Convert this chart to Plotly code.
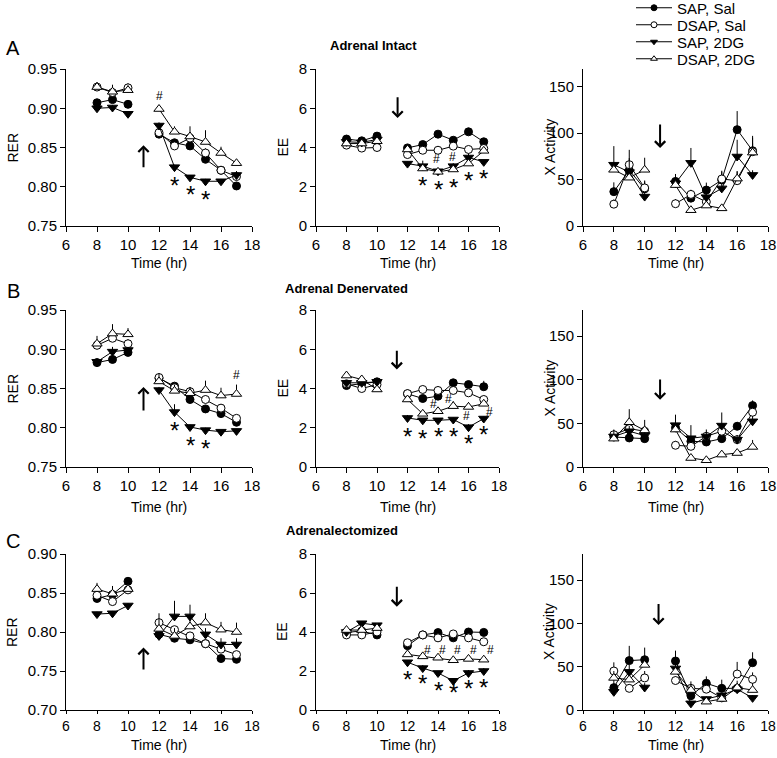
import plotly.graph_objects as go

W, H = 777, 758
FONT = "Liberation Sans, Arial, sans-serif"

HOURS = [8, 9, 10, 12, 13, 14, 15, 16, 17]
SERIES = ["SAP, Sal", "DSAP, Sal", "SAP, 2DG", "DSAP, 2DG"]

# ---------------- Row A: Adrenal Intact ----------------
RER_INTACT = {
    "SAP, Sal":  [0.907, 0.911, 0.905, 0.867, 0.856, 0.852, 0.835, 0.821, 0.801],
    "DSAP, Sal": [0.927, 0.920, 0.926, 0.869, 0.852, 0.862, 0.843, 0.821, 0.813],
    "SAP, 2DG":  [0.900, 0.901, 0.893, 0.878, 0.825, 0.812, 0.807, 0.807, 0.815],
    "DSAP, 2DG": [0.927, 0.921, 0.923, 0.899, 0.870, 0.864, 0.857, 0.843, 0.830],
}
RER_INTACT_ERR = {
    "SAP, Sal":  [0.004, 0.005, 0.004, 0.003, 0.004, 0.003, 0.004, 0.004, 0.003],
    "DSAP, Sal": [0.006, 0.004, 0.006, 0.004, 0.005, 0.007, 0.006, 0.005, 0.004],
    "SAP, 2DG":  [0.003, 0.003, 0.003, 0.004, 0.003, 0.003, 0.003, 0.003, 0.005],
    "DSAP, 2DG": [0.006, 0.009, 0.006, 0.005, 0.007, 0.013, 0.015, 0.008, 0.004],
}
EE_INTACT = {
    "SAP, Sal":  [4.43, 4.34, 4.58, 3.98, 4.15, 4.68, 4.37, 4.80, 4.29],
    "DSAP, Sal": [4.12, 3.97, 4.00, 3.64, 3.86, 3.86, 4.07, 3.90, 3.95],
    "SAP, 2DG":  [4.29, 4.26, 4.41, 3.18, 3.05, 2.79, 3.05, 3.49, 3.27],
    "DSAP, 2DG": [4.20, 4.20, 4.32, 3.90, 2.93, 2.76, 2.88, 3.18, 3.83],
}
EE_INTACT_ERR = {
    "SAP, Sal":  [0.10, 0.10, 0.12, 0.10, 0.10, 0.10, 0.10, 0.20, 0.10],
    "DSAP, Sal": [0.08, 0.08, 0.08, 0.10, 0.10, 0.08, 0.10, 0.10, 0.15],
    "SAP, 2DG":  [0.10, 0.10, 0.10, 0.10, 0.10, 0.10, 0.15, 0.20, 0.10],
    "DSAP, 2DG": [0.10, 0.10, 0.10, 0.15, 0.40, 0.15, 0.15, 0.20, 0.15],
}
ACT_INTACT = {
    "SAP, Sal":  [37, 60, 40, 48, 30, 38.7, 49.5, 103.7, 81],
    "DSAP, Sal": [23.5, 66, 41, 24, 34, 26, 50.6, 48.8, 80],
    "SAP, 2DG":  [66, 58, 31.7, 46, 68, 31, 40.5, 74.8, 55],
    "DSAP, 2DG": [60.5, 52, 60.5, 44, 17, 22, 19, 51, 79],
}
ACT_INTACT_ERR = {
    "SAP, Sal":  [10, 8, 8, 8, 5, 8, 10, 20, 8],
    "DSAP, Sal": [5, 16, 8, 5, 5, 5, 8, 10, 15],
    "SAP, 2DG":  [20, 15, 5, 8, 16, 5, 5, 18, 5],
    "DSAP, 2DG": [5, 5, 13, 5, 3, 3, 3, 8, 18],
}

# ---------------- Row B: Adrenal Denervated ----------------
RER_DENERV = {
    "SAP, Sal":  [0.883, 0.887, 0.896, 0.863, 0.853, 0.836, 0.824, 0.818, 0.807],
    "DSAP, Sal": [0.905, 0.914, 0.907, 0.864, 0.851, 0.846, 0.836, 0.825, 0.812],
    "SAP, 2DG":  [0.884, 0.897, 0.899, 0.848, 0.820, 0.801, 0.797, 0.795, 0.796],
    "DSAP, 2DG": [0.907, 0.920, 0.919, 0.859, 0.847, 0.844, 0.848, 0.841, 0.843],
}
RER_DENERV_ERR = {
    "SAP, Sal":  [0.004, 0.004, 0.004, 0.004, 0.004, 0.004, 0.004, 0.004, 0.003],
    "DSAP, Sal": [0.006, 0.006, 0.006, 0.005, 0.005, 0.005, 0.005, 0.005, 0.004],
    "SAP, 2DG":  [0.004, 0.006, 0.004, 0.004, 0.010, 0.003, 0.003, 0.002, 0.002],
    "DSAP, 2DG": [0.010, 0.012, 0.008, 0.010, 0.008, 0.008, 0.012, 0.010, 0.012],
}
EE_DENERV = {
    "SAP, Sal":  [4.15, 4.24, 4.34, 3.73, 3.49, 3.61, 4.29, 4.20, 4.09],
    "DSAP, Sal": [4.24, 4.00, 4.20, 3.74, 3.95, 3.90, 3.90, 3.78, 3.44],
    "SAP, 2DG":  [4.29, 4.29, 4.34, 2.50, 2.38, 2.38, 2.42, 2.03, 2.47],
    "DSAP, 2DG": [4.66, 4.46, 3.95, 3.44, 2.71, 2.84, 3.10, 3.06, 3.22],
}
EE_DENERV_ERR = {
    "SAP, Sal":  [0.10, 0.10, 0.10, 0.10, 0.10, 0.10, 0.10, 0.15, 0.30],
    "DSAP, Sal": [0.10, 0.10, 0.10, 0.20, 0.10, 0.10, 0.10, 0.10, 0.20],
    "SAP, 2DG":  [0.10, 0.10, 0.10, 0.15, 0.10, 0.10, 0.10, 0.15, 0.10],
    "DSAP, 2DG": [0.10, 0.10, 0.10, 0.20, 0.15, 0.20, 0.25, 0.25, 0.20],
}
ACT_DENERV = {
    "SAP, Sal":  [34.4, 33.3, 32.5, 45, 29.5, 28.7, 32.5, 46.7, 70.4],
    "DSAP, Sal": [37, 44, 41, 24.9, 23.7, 35.2, 41, 31.4, 62.8],
    "SAP, 2DG":  [35, 41, 36, 48, 33, 35, 47.5, 31.4, 52.4],
    "DSAP, 2DG": [32.5, 51.3, 42, 42.9, 10.3, 7.7, 14.2, 16, 23],
}
ACT_DENERV_ERR = {
    "SAP, Sal":  [5, 5, 5, 5, 5, 5, 5, 5, 6],
    "DSAP, Sal": [5, 5, 5, 5, 5, 5, 5, 5, 6],
    "SAP, 2DG":  [8, 6, 5, 12, 15, 8, 15, 5, 6],
    "DSAP, 2DG": [5, 15, 12, 5, 3, 3, 3, 3, 8],
}

# ---------------- Row C: Adrenalectomized ----------------
RER_ADX = {
    "SAP, Sal":  [0.843, 0.848, 0.865, 0.797, 0.792, 0.790, 0.785, 0.766, 0.765],
    "DSAP, Sal": [0.847, 0.839, 0.854, 0.812, 0.803, 0.795, 0.785, 0.778, 0.771],
    "SAP, 2DG":  [0.823, 0.824, 0.834, 0.795, 0.820, 0.820, 0.797, 0.784, 0.784],
    "DSAP, 2DG": [0.855, 0.849, 0.855, 0.804, 0.795, 0.807, 0.812, 0.803, 0.800],
}
RER_ADX_ERR = {
    "SAP, Sal":  [0.004, 0.004, 0.004, 0.004, 0.004, 0.004, 0.004, 0.004, 0.003],
    "DSAP, Sal": [0.004, 0.004, 0.004, 0.004, 0.004, 0.004, 0.004, 0.004, 0.004],
    "SAP, 2DG":  [0.003, 0.003, 0.003, 0.004, 0.020, 0.015, 0.008, 0.008, 0.008],
    "DSAP, 2DG": [0.008, 0.010, 0.006, 0.020, 0.010, 0.010, 0.012, 0.010, 0.012],
}
EE_ADX = {
    "SAP, Sal":  [3.98, 4.05, 3.85, 3.30, 3.85, 3.97, 3.70, 4.00, 3.98],
    "DSAP, Sal": [3.85, 3.85, 4.00, 3.45, 3.85, 3.70, 3.90, 3.70, 3.50],
    "SAP, 2DG":  [4.00, 4.45, 4.35, 2.45, 2.15, 1.90, 1.50, 1.90, 2.00],
    "DSAP, 2DG": [4.10, 4.10, 4.20, 2.85, 2.75, 2.68, 2.55, 2.62, 2.58],
}
EE_ADX_ERR = {
    "SAP, Sal":  [0.10, 0.10, 0.10, 0.10, 0.10, 0.10, 0.10, 0.15, 0.15],
    "DSAP, Sal": [0.10, 0.10, 0.10, 0.10, 0.10, 0.10, 0.10, 0.10, 0.10],
    "SAP, 2DG":  [0.10, 0.10, 0.10, 0.10, 0.15, 0.10, 0.10, 0.15, 0.15],
    "DSAP, 2DG": [0.15, 0.10, 0.10, 0.10, 0.15, 0.10, 0.10, 0.10, 0.10],
}
ACT_ADX = {
    "SAP, Sal":  [25.8, 57, 58, 56.5, 16.5, 30.8, 25, 25, 54.6],
    "DSAP, Sal": [45, 25, 37, 34, 25, 24, 14, 41.5, 35.4],
    "SAP, 2DG":  [21, 44, 26, 48, 7.7, 12.7, 17, 24, 14],
    "DSAP, 2DG": [37, 35, 52, 44, 23, 9.6, 12.7, 25.8, 23],
}
ACT_ADX_ERR = {
    "SAP, Sal":  [10, 17, 14, 12, 5, 8, 10, 5, 12],
    "DSAP, Sal": [10, 5, 8, 5, 5, 5, 5, 14, 8],
    "SAP, 2DG":  [5, 8, 5, 5, 3, 3, 3, 3, 3],
    "DSAP, 2DG": [8, 8, 8, 8, 10, 3, 3, 8, 8],
}

# Significance markers (x, y) per panel
STAR_A_RER = [(13, 0.804), (14, 0.793), (15, 0.786)]
HASH_A_RER = [(12, 0.915)]
STAR_A_EE = [(13, 2.16), (14, 1.94), (15, 2.08), (16, 2.42), (17, 2.50)]
HASH_A_EE = [(13.9, 3.39), (14.95, 3.52)]
STAR_B_RER = [(13, 0.799), (14, 0.780), (15, 0.776)]
HASH_B_RER = [(17, 0.867)]
STAR_B_EE = [(12, 1.65), (13, 1.57), (14, 1.65), (15, 1.65), (16, 1.31), (17, 1.74)]
HASH_B_EE = [(13.7, 3.23), (14.7, 3.49), (15.9, 2.59), (17.35, 2.81)]
STAR_C_EE = [(12, 1.65), (13, 1.45), (14, 1.10), (15, 1.02), (16, 1.19), (17, 1.28)]
HASH_C_EE = [(13.3, 3.06), (14.3, 3.06), (15.3, 3.06), (16.3, 3.06), (17.45, 3.06)]

# Injection arrows (x, tail y, head y)
ARROWS = {
    1: (11.0, 0.823, 0.853), 2: (11.35, 6.64, 5.5), 3: (11.0, 111, 84),
    4: (11.0, 0.820, 0.852), 5: (11.3, 6.0, 4.97), 6: (11.0, 102, 77),
    7: (11.0, 0.750, 0.780), 8: (11.3, 6.4, 5.3), 9: (10.9, 124, 98),
}

STYLE = {
    "SAP, Sal":  dict(symbol="circle", color="black", size=8),
    "DSAP, Sal": dict(symbol="circle", color="white", size=8),
    "SAP, 2DG":  dict(symbol="triangle-down", color="black", size=9),
    "DSAP, 2DG": dict(symbol="triangle-up", color="white", size=9),
}
LEGEND_ROWS_PX = [8, 25, 42, 59]

PANELS = [
    (RER_INTACT, RER_INTACT_ERR), (EE_INTACT, EE_INTACT_ERR), (ACT_INTACT, ACT_INTACT_ERR),
    (RER_DENERV, RER_DENERV_ERR), (EE_DENERV, EE_DENERV_ERR), (ACT_DENERV, ACT_DENERV_ERR),
    (RER_ADX, RER_ADX_ERR), (EE_ADX, EE_ADX_ERR), (ACT_ADX, ACT_ADX_ERR),
]

# pixel layout
COLS_PX = [(66, 252), (316, 499), (583, 768)]
ROWS_PX = [(69, 226), (310, 467), (554, 710)]
YRANGES = [
    [0.75, 0.95], [0, 8], [0, 169],
    [0.75, 0.95], [0, 8], [0, 180],
    [0.70, 0.90], [0, 8], [0, 180],
]
YDTICK = [0.05, 2, 50] * 3
XTICK_FONT = [15, 15, 14]
XTICK_LEN = [5, 5, 3]


def px_x(p):
    return p / W


def px_y(p):
    return 1 - p / H


fig = go.Figure()


def with_gap(vals, fill=None):
    return list(vals[:3]) + [fill] + list(vals[3:])


xg = with_gap(HOURS, 11)
LEGEND_IDS = ["legend", "legend2", "legend3", "legend4"]

for i, (vals, errs) in enumerate(PANELS):
    n = i + 1
    xa = "x" if n == 1 else f"x{n}"
    ya = "y" if n == 1 else f"y{n}"
    for k, s in enumerate(SERIES):
        st = STYLE[s]
        fig.add_trace(go.Scatter(
            x=xg, y=with_gap(vals[s]), name=s, mode="lines+markers",
            xaxis=xa, yaxis=ya, showlegend=False, connectgaps=False,
            line=dict(color="black", width=1),
            marker=dict(symbol=st["symbol"], size=st["size"], color=st["color"],
                        line=dict(color="black", width=1)),
            error_y=dict(type="data", symmetric=False, array=with_gap(errs[s], 0),
                         arrayminus=[0] * 10, color="black", thickness=1, width=0),
        ))

# legend-only entries (small markers as in the reference key)
for k, s in enumerate(SERIES):
    st = STYLE[s]
    fig.add_trace(go.Scatter(
        x=[None], y=[None], name=s, mode="lines+markers", xaxis="x", yaxis="y",
        showlegend=True, legend=LEGEND_IDS[k],
        line=dict(color="black", width=1),
        marker=dict(symbol=st["symbol"], size=6, color=st["color"],
                    line=dict(color="black", width=1)),
    ))

layout = dict(
    width=W, height=H, margin=dict(l=0, r=0, t=0, b=0, autoexpand=False),
    paper_bgcolor="white", plot_bgcolor="white",
    font=dict(family=FONT, size=14, color="black"),
)
for k, lid in enumerate(LEGEND_IDS):
    layout[lid] = dict(x=px_x(631), y=px_y(LEGEND_ROWS_PX[k]), xanchor="left",
                       yanchor="middle", bgcolor="rgba(0,0,0,0)",
                       font=dict(size=15), itemwidth=36)

for i in range(9):
    n = i + 1
    r, c = divmod(i, 3)
    xk = "xaxis" if n == 1 else f"xaxis{n}"
    yk = "yaxis" if n == 1 else f"yaxis{n}"
    xa = "x" if n == 1 else f"x{n}"
    ya = "y" if n == 1 else f"y{n}"
    layout[xk] = dict(
        domain=[px_x(COLS_PX[c][0]), px_x(COLS_PX[c][1])], anchor=ya,
        range=[6, 18], dtick=2, tick0=6, showline=True, linecolor="black", linewidth=1,
        ticks="outside", ticklen=XTICK_LEN[r], tickcolor="black", showgrid=False,
        zeroline=False, tickfont=dict(size=XTICK_FONT[r]), ticklabeloverflow="allow",
        automargin=False,
    )
    ydict = dict(
        domain=[px_y(ROWS_PX[r][1]), px_y(ROWS_PX[r][0])], anchor=xa,
        range=YRANGES[i], dtick=YDTICK[i], tick0=0, showline=True, linecolor="black",
        linewidth=1, ticks="outside", ticklen=5, tickcolor="black", showgrid=False,
        zeroline=False, tickfont=dict(size=15), ticklabeloverflow="allow", automargin=False,
    )
    if c == 0:
        ydict["tickformat"] = ".2f"
    layout[yk] = ydict

fig.update_layout(**layout)

ann = []


def paper_text(text, px, py, size, angle=0):
    ann.append(dict(text=text, x=px_x(px), y=px_y(py), xref="paper", yref="paper",
                    xanchor="center", yanchor="middle", showarrow=False,
                    textangle=angle, font=dict(size=size)))


# axis titles
XT_Y = [263, 507, 745]
YT_X = [12, 282, 549]
YT = ["RER", "EE", "X Activity"]
for r in range(3):
    for c in range(3):
        paper_text("Time (hr)", (COLS_PX[c][0] + COLS_PX[c][1]) / 2, XT_Y[r], 14)
        paper_text(YT[c], YT_X[c], (ROWS_PX[r][0] + ROWS_PX[r][1]) / 2, 14, -90)

# panel letters and titles
for letter, (lx, ly) in zip("ABC", [(13, 48), (13, 291), (13, 541)]):
    paper_text(letter, lx, ly, 20)
for title, (tx, ty) in zip(["Adrenal Intact", "Adrenal Denervated", "Adrenalectomized"],
                           [(373, 46), (346, 288), (342, 530)]):
    paper_text(f"<b>{title}</b>", tx, ty, 13)


def axref(n):
    return ("x" if n == 1 else f"x{n}"), ("y" if n == 1 else f"y{n}")


def marks(n, pts, text, size, yshift):
    xr, yr = axref(n)
    for (x, y) in pts:
        ann.append(dict(text=text, x=x, y=y, xref=xr, yref=yr, showarrow=False,
                        xanchor="center", yanchor="middle",
                        font=dict(size=size), yshift=yshift))


for n, stars, hashes in [(1, STAR_A_RER, HASH_A_RER), (2, STAR_A_EE, HASH_A_EE),
                         (4, STAR_B_RER, HASH_B_RER), (5, STAR_B_EE, HASH_B_EE),
                         (8, STAR_C_EE, HASH_C_EE)]:
    marks(n, stars, "*", 24, -2)
    marks(n, hashes, "#", 12, 0)

for n, (x, ytail, yhead) in ARROWS.items():
    xr, yr = axref(n)
    ann.append(dict(x=x, y=yhead, ax=x, ay=ytail, xref=xr, yref=yr, axref=xr, ayref=yr,
                    showarrow=True, arrowhead=4, arrowsize=1, arrowwidth=2,
                    arrowcolor="black", text=""))

fig.update_layout(annotations=ann)
fig.write_html("out.html", config={"displayModeBar": False},
               post_script="document.body.style.margin='0';document.body.style.overflow='hidden';")
